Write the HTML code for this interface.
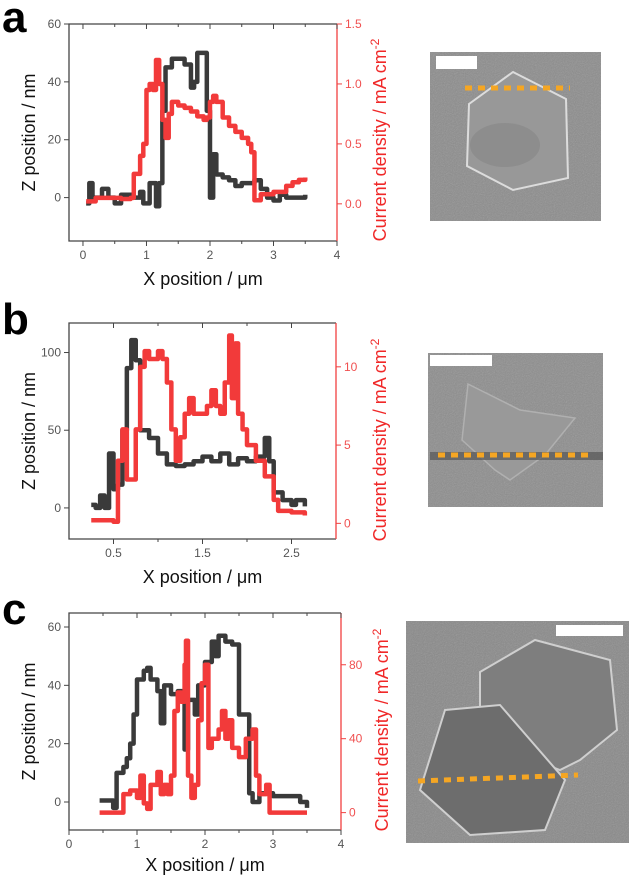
<!DOCTYPE html>
<html><head><meta charset="utf-8"><style>
body{margin:0;background:#fff;width:629px;height:876px;overflow:hidden;font-family:"Liberation Sans",sans-serif}
svg{position:absolute;left:0;top:0}
</style></head><body>
<svg id="s" width="629" height="876" xmlns="http://www.w3.org/2000/svg">
<defs>
<filter id="noise" x="0" y="0" width="1" height="1"><feTurbulence type="fractalNoise" baseFrequency="0.9" numOctaves="2" result="n"/><feColorMatrix type="saturate" values="0"/><feComponentTransfer><feFuncA type="linear" slope="0.3"/></feComponentTransfer></filter>
</defs>
<text x="2" y="32" font-size="44" font-weight="bold">a</text>
<text x="2" y="334" font-size="44" font-weight="bold">b</text>
<text x="2" y="624" font-size="44" font-weight="bold">c</text>
<g>
<rect x="430" y="52" width="171" height="169" fill="#8c8c8c"/>
<rect x="430" y="52" width="171" height="169" filter="url(#noise)"/>
<polygon points="513,72 566,99 568,178 513,190 467,166 469,104" fill="#989898" stroke="#dcdcdc" stroke-width="2"/>
<ellipse cx="505" cy="145" rx="35" ry="22" fill="#858585" opacity="0.6"/>
<rect x="436" y="56" width="41" height="13" fill="#fff"/>
<line x1="465" y1="88" x2="570" y2="88" stroke="#f5a623" stroke-width="5" stroke-dasharray="7,6"/>
</g>
<g>
<rect x="428" y="353" width="175" height="154" fill="#8d8d8d"/>
<rect x="428" y="353" width="175" height="154" filter="url(#noise)"/>
<polygon points="468,384 520,410 575,418 545,455 510,480 495,470 462,440" fill="#999" stroke="#b0b0b0" stroke-width="1.5"/>
<rect x="430" y="452" width="173" height="8" fill="#555" opacity="0.7"/>
<rect x="430" y="355" width="62" height="11" fill="#fff"/>
<line x1="438" y1="455" x2="592" y2="455" stroke="#f5a623" stroke-width="5" stroke-dasharray="7,6"/>
</g>
<g>
<rect x="406" y="621" width="223" height="222" fill="#898989"/>
<rect x="406" y="621" width="223" height="222" filter="url(#noise)"/>
<polygon points="480,672 535,640 610,660 617,730 580,760 560,770 480,740" fill="#7e7e7e" stroke="#cfcfcf" stroke-width="2"/>
<polygon points="445,710 500,705 565,780 545,830 470,835 420,790" fill="#6d6d6d" stroke="#cfcfcf" stroke-width="2"/>
<rect x="556" y="625" width="67" height="11" fill="#fff"/>
<line x1="418" y1="781" x2="578" y2="775" stroke="#f5a623" stroke-width="5" stroke-dasharray="7,6"/>
</g>
</svg>
<script>
// ---- Panel a data ----
const aZx=[0.05,0.1,0.15,0.3,0.4,0.5,0.6,0.8,0.9,0.95,1.05,1.15,1.2,1.25,1.3,1.4,1.5,1.6,1.7,1.75,1.8,1.9,1.95,2.0,2.05,2.1,2.2,2.3,2.4,2.5,2.6,2.7,2.8,2.9,3.0,3.1,3.2,3.4,3.5];
const aZy=[-2,5,0,3,0,-2,1,0,2,-2,5,-3,5,30,45,48,48,46,38,40,50,50,30,0,15,8,7,6,4,5,5,6,3,0,-1,1,0,0,1];
const aJx=[0.05,0.2,0.4,0.6,0.75,0.8,0.9,0.95,1.0,1.05,1.1,1.15,1.2,1.25,1.3,1.35,1.4,1.5,1.6,1.7,1.8,1.9,1.95,2.0,2.05,2.1,2.2,2.3,2.4,2.5,2.6,2.65,2.7,2.8,3.0,3.2,3.3,3.4,3.5];
const aJy=[0.02,0.05,0.05,0.04,0.05,0.25,0.4,0.5,0.95,1.0,0.95,1.2,1.0,0.7,0.55,0.75,0.85,0.82,0.8,0.77,0.73,0.7,0.72,0.85,0.9,0.85,0.72,0.65,0.6,0.55,0.5,0.43,0.03,0.08,0.1,0.15,0.18,0.2,0.22];
const aXt=[0,1,2,3,4], aZt=[0,20,40,60], aJt=[0.0,0.5,1.0,1.5];
const aJtLabels=["0.0","0.5","1.0","1.5"];
// ---- Panel b data ----
const bZx=[0.25,0.3,0.35,0.4,0.45,0.5,0.55,0.6,0.65,0.7,0.75,0.8,0.9,1.0,1.1,1.2,1.3,1.4,1.5,1.6,1.7,1.8,1.9,2.0,2.1,2.2,2.25,2.3,2.4,2.5,2.55,2.65];
const bZy=[2,0,8,0,35,12,15,50,90,108,95,50,45,35,28,27,28,30,33,30,35,28,32,30,33,45,30,10,5,2,5,1];
const bJx=[0.25,0.4,0.5,0.55,0.6,0.65,0.7,0.75,0.8,0.85,0.9,1.0,1.05,1.1,1.15,1.2,1.25,1.3,1.35,1.4,1.5,1.55,1.6,1.65,1.7,1.75,1.8,1.83,1.87,1.9,1.95,2.0,2.1,2.2,2.3,2.35,2.5,2.65];
const bJy=[0.2,0.2,0.1,4,6,2.8,2.8,6,10,11,10.5,11,10.5,9,6,4,5.5,7,8,7,7,7.5,8.5,7.5,7,9,12,8,11.5,7,6,5,4,3,1.5,0.8,0.7,0.5];
const bXt=[0.5,1.5,2.5], bZt=[0,50,100], bJt=[0,5,10];
const bJtLabels=["0","5","10"];
// ---- Panel c data ----
const cZx=[0.45,0.6,0.65,0.7,0.8,0.85,0.9,0.95,1.0,1.1,1.15,1.2,1.3,1.35,1.4,1.5,1.6,1.7,1.75,1.85,1.9,2.0,2.1,2.15,2.2,2.3,2.4,2.5,2.6,2.65,2.7,2.8,3.0,3.4,3.5];
const cZy=[0.5,0.5,-2,10,12,15,20,30,42,45,46,42,38,27,40,37,38,18,35,30,40,48,55,50,57,55,54,30,30,3,0,3,2,0,-2];
const cJx=[0.45,0.75,0.8,0.9,1.0,1.05,1.1,1.15,1.2,1.3,1.35,1.4,1.45,1.5,1.55,1.6,1.65,1.7,1.72,1.75,1.8,1.85,1.9,1.95,2.0,2.05,2.1,2.2,2.25,2.3,2.35,2.4,2.5,2.6,2.7,2.75,2.8,2.9,2.95,3.2,3.5];
const cJy=[0,0,10,12,8,20,5,2,15,22,10,15,10,20,55,65,60,80,93,20,8,15,50,70,80,35,40,45,55,40,50,35,30,40,45,20,10,15,0,0,0];
const cXt=[0,1,2,3,4], cZt=[0,20,40,60], cJt=[0,40,80];
const cJtLabels=["0","40","80"];

const NS="http://www.w3.org/2000/svg";
const svg=document.getElementById('s');
function mk(tag,attrs,parent){const e=document.createElementNS(NS,tag);for(const k in attrs)e.setAttribute(k,attrs[k]);(parent||svg).appendChild(e);return e;}

function panel(id,box,xr,zr,jr,Zx,Zy,Jx,Jy,xt,zt,jt,jtl,xMinor,titles){
  const g=mk('g',{});
  
  
  const X=v=>box.l+(v-xr[0])/(xr[1]-xr[0])*(box.r-box.l);
  const YZ=v=>box.b-(v-zr[0])/(zr[1]-zr[0])*(box.b-box.t);
  const YJ=v=>box.b-(v-jr[0])/(jr[1]-jr[0])*(box.b-box.t);
  const frame=mk('path',{d:`M${box.r},${box.t}H${box.l}V${box.b}H${box.r}`,fill:'none',stroke:'#444','stroke-width':1.3},g);
  
  
  const ra=mk('line',{x1:box.r,y1:box.t,x2:box.r,y2:box.b,stroke:'#f04040','stroke-width':1.3},g);
  
  
  xMinor.forEach(v=>{mk('line',{x1:X(v),x2:X(v),y1:box.b,y2:box.b+3,stroke:'#444'},g);mk('line',{x1:X(v),x2:X(v),y1:box.t,y2:box.t+3,stroke:'#444'},g);});
  xt.forEach(v=>{
    mk('line',{x1:X(v),x2:X(v),y1:box.b,y2:box.b+5,stroke:'#444'},g);
    mk('line',{x1:X(v),x2:X(v),y1:box.t,y2:box.t+5,stroke:'#444'},g);
    const t=mk('text',{x:X(v),y:box.b+18,'text-anchor':'middle','font-size':12,fill:'#555'},g);t.textContent=v;
    
    
  });
  zt.forEach(v=>{
    mk('line',{x1:box.l-5,x2:box.l,y1:YZ(v),y2:YZ(v),stroke:'#444'},g);
    const t=mk('text',{x:box.l-8,y:YZ(v)+4,'text-anchor':'end','font-size':12,fill:'#555'},g);t.textContent=v;
    
    
  });
  jt.forEach((v,i)=>{
    mk('line',{x1:box.r,x2:box.r+5,y1:YJ(v),y2:YJ(v),stroke:'#f04040'},g);
    const t=mk('text',{x:box.r+8,y:YJ(v)+4,'font-size':12,fill:'#f05050'},g);t.textContent=jtl[i];
    
    
  });
  function step(xs,ys,Y){let d=`M${X(xs[0])},${Y(ys[0])}`;for(let i=1;i<xs.length;i++){d+=`H${X(xs[i])}V${Y(ys[i])}`;}return d;}
  const z=mk('path',{d:step(Zx,Zy,YZ),fill:'none',stroke:'#3a3a3a','stroke-width':4.5,'stroke-linejoin':'round'},g);
  
  
  const j=mk('path',{d:step(Jx,Jy,YJ),fill:'none',stroke:'#f23a3a','stroke-width':4.5,'stroke-linejoin':'round'},g);
  
  
  const xl=mk('text',{x:(box.l+box.r)/2,y:titles.xy,'text-anchor':'middle','font-size':18,fill:'#111'},g);
  xl.textContent='X position / \u03bcm';
  
  
  const cy=(box.t+box.b)/2;
  const yl=mk('text',{x:0,y:0,transform:`translate(${box.l-34},${cy}) rotate(-90)`,'text-anchor':'middle','font-size':18,fill:'#111'},g);
  yl.textContent='Z position / nm';
  
  
  const rl=mk('text',{x:0,y:0,transform:`translate(${titles.rx},${titles.ry}) rotate(-90)`,'text-anchor':'middle','font-size':18,fill:'#f02828'},g);
  rl.innerHTML='Current density / mA cm<tspan dy="-7" font-size="12">-2</tspan>';
  
  
}
panel('a',{l:69,r:337,t:24,b:241},[-0.22,4],[-15,60],[-0.31,1.5],aZx,aZy,aJx,aJy,aXt,aZt,aJt,aJtLabels,[0.5,1.5,2.5,3.5],{xy:285,rx:386,ry:140});
panel('b',{l:69,r:336,t:323,b:539},[0,3],[-20,119],[-1,12.8],bZx,bZy,bJx,bJy,bXt,bZt,bJt,bJtLabels,[1,2],{xy:583,rx:386,ry:440});
panel('c',{l:69,r:341,t:613,b:830},[0,4],[-9.6,64.8],[-9.4,108],cZx,cZy,cJx,cJy,cXt,cZt,cJt,cJtLabels,[0.5,1.5,2.5,3.5],{xy:871,rx:388,ry:730});
</script>
</body></html>
